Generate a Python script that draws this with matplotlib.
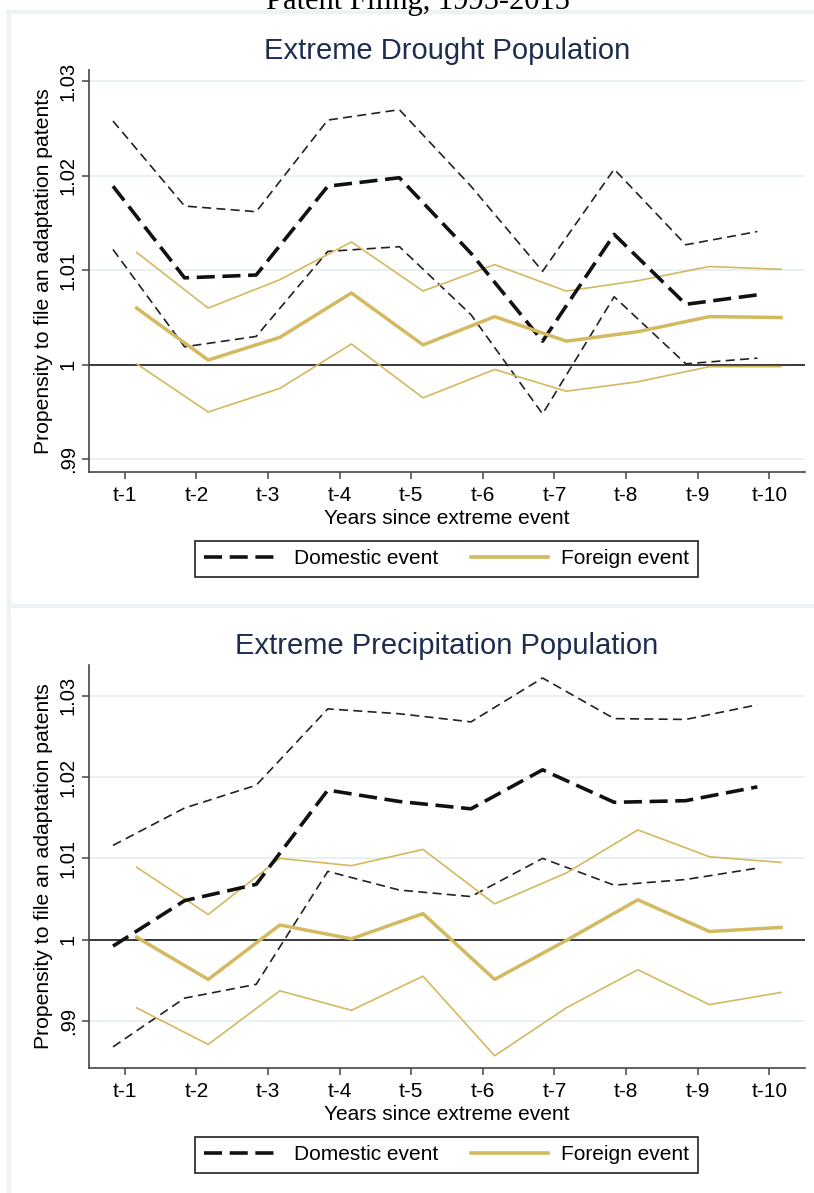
import numpy as np
import matplotlib
matplotlib.use("Agg")
import matplotlib.pyplot as plt
from matplotlib.lines import Line2D

plt.rcParams['font.family'] = ['Liberation Sans', 'DejaVu Sans']
plt.rcParams['lines.scale_dashes'] = False

# ---------------- data ----------------
lag_labels = ['t-1', 't-2', 't-3', 't-4', 't-5', 't-6', 't-7', 't-8', 't-9', 't-10']
lags = np.arange(1, 11)
ytick_vals = [0.99, 1.00, 1.01, 1.02, 1.03]
ytick_labels = ['.99', '1', '1.01', '1.02', '1.03']

drought_dom    = [1.0189, 1.0092, 1.0095, 1.0189, 1.0198, 1.0118, 1.0025, 1.0138, 1.0064, 1.0074]
drought_dom_hi = [1.0258, 1.0168, 1.0162, 1.0259, 1.0270, 1.0189, 1.0099, 1.0207, 1.0127, 1.0141]
drought_dom_lo = [1.0122, 1.0019, 1.0030, 1.0120, 1.0125, 1.0053, 0.9948, 1.0072, 1.0001, 1.0007]
drought_for    = [1.0060, 1.0005, 1.0029, 1.0076, 1.0021, 1.0051, 1.0025, 1.0035, 1.0051, 1.0050]
drought_for_hi = [1.0119, 1.0060, 1.0090, 1.0130, 1.0078, 1.0106, 1.0078, 1.0089, 1.0104, 1.0101]
drought_for_lo = [1.0001, 0.9950, 0.9975, 1.0022, 0.9965, 0.9995, 0.9972, 0.9982, 0.9998, 0.9998]

precip_dom    = [0.9992, 1.0048, 1.0068, 1.0184, 1.0170, 1.0161, 1.0209, 1.0169, 1.0171, 1.0188]
precip_dom_hi = [1.0116, 1.0162, 1.0190, 1.0284, 1.0278, 1.0268, 1.0322, 1.0272, 1.0271, 1.0289]
precip_dom_lo = [0.9868, 0.9928, 0.9945, 1.0084, 1.0061, 1.0053, 1.0100, 1.0067, 1.0074, 1.0088]
precip_for    = [1.0003, 0.9951, 1.0018, 1.0001, 1.0032, 0.9951, 0.9999, 1.0049, 1.0010, 1.0015]
precip_for_hi = [1.0089, 1.0031, 1.0100, 1.0091, 1.0111, 1.0044, 1.0082, 1.0135, 1.0102, 1.0095]
precip_for_lo = [0.9916, 0.9871, 0.9937, 0.9913, 0.9955, 0.9857, 0.9916, 0.9963, 0.9920, 0.9935]

super_title = "Patent Filing, 1995-2015"
panel_titles = ["Extreme Drought Population", "Extreme Precipitation Population"]
xlabel = "Years since extreme event"
ylabel = "Propensity to file an adaptation patents"
legend_labels = ["Domestic event", "Foreign event"]

# ---------------- style ----------------
W, H = 814, 1193
GOLD = '#d3b95f'
BLACK = '#111111'
TITLE_C = '#1e2d4f'
FRAME_C = '#edf2f5'
GRID_C = '#e4edf0'
DODGE = 0.165
THICK_DASH = (0, (13, 5.5))
THIN_DASH = (0, (6.5, 3.8))

fig = plt.figure(figsize=(W / 100, H / 100), dpi=100)


def fx(px):
    return px / W


def fy(py):
    return 1 - py / H


# graph-region frames (light)
for xs, ys in [([8, W], [12, 12]), ([9, 9], [12, H]), ([9, W], [606, 606])]:
    fig.add_artist(Line2D([fx(x) for x in xs], [fy(y) for y in ys],
                          color=FRAME_C, lw=3, transform=fig.transFigure))

fig.text(fx(418), fy(9), super_title, family='Liberation Serif', fontsize=22,
         ha='center', va='baseline', color='black')

panels = [
    dict(top=70, bottom=472, ylim=(0.98865, 1.0312), title_y=51, leg_y=559,
         dom=drought_dom, dom_hi=drought_dom_hi, dom_lo=drought_dom_lo,
         fo=drought_for, fo_hi=drought_for_hi, fo_lo=drought_for_lo),
    dict(top=665, bottom=1068, ylim=(0.9842, 1.0338), title_y=646, leg_y=1155,
         dom=precip_dom, dom_hi=precip_dom_hi, dom_lo=precip_dom_lo,
         fo=precip_for, fo_hi=precip_for_hi, fo_lo=precip_for_lo),
]

left_px, right_px = 89, 805
for i, p in enumerate(panels):
    ax = fig.add_axes([fx(left_px), fy(p['bottom']),
                       (right_px - left_px) / W, (p['bottom'] - p['top']) / H])
    ax.set_xlim(0.5, 10.5)
    ax.set_ylim(*p['ylim'])
    for s in ['top', 'right']:
        ax.spines[s].set_visible(False)
    for s in ['left', 'bottom']:
        ax.spines[s].set_color('#454545')
        ax.spines[s].set_linewidth(1.2)

    ax.set_yticks(ytick_vals, ytick_labels)
    ax.set_xticks(lags, lag_labels)
    ax.tick_params(axis='x', length=5, width=1.1, pad=5, labelsize=15, color='#454545')
    ax.tick_params(axis='y', length=5, width=1.1, pad=3, labelsize=14.5, color='#454545')
    for lbl in ax.get_yticklabels():
        lbl.set_rotation(90)
        lbl.set_va('center')
        lbl.set_ha('right')
    ax.grid(axis='y', color=GRID_C, lw=1.2)
    ax.set_axisbelow(True)
    ax.axhline(1.0, color='#3a3a3a', lw=1.4, zorder=2)

    xd = lags - DODGE
    xf = lags + DODGE
    ax.plot(xd, p['dom_hi'], color='#222222', lw=1.2, linestyle=THIN_DASH, zorder=3)
    ax.plot(xd, p['dom_lo'], color='#222222', lw=1.2, linestyle=THIN_DASH, zorder=3)
    ax.plot(xf, p['fo_hi'], color=GOLD, lw=1.2, zorder=3)
    ax.plot(xf, p['fo_lo'], color=GOLD, lw=1.2, zorder=3)
    ax.plot(xd, p['dom'], color=BLACK, lw=2.6, linestyle=THICK_DASH, zorder=4)
    ax.plot(xf, p['fo'], color=GOLD, lw=2.5, zorder=4)

    ax.set_xlabel(xlabel, fontsize=15, va='center')
    ax.xaxis.set_label_coords(0.5, -46 / (p['bottom'] - p['top']))
    ax.set_ylabel(ylabel, fontsize=15.2, va='center')
    ax.yaxis.set_label_coords(-45 / (right_px - left_px), 0.5)

    fig.text(fx(447), fy(p['title_y']), panel_titles[i], fontsize=21,
             color=TITLE_C, ha='center', va='center')

    h_dom = Line2D([], [], color=BLACK, lw=2.6, linestyle=THICK_DASH)
    h_for = Line2D([], [], color=GOLD, lw=2.6)
    leg = fig.legend([h_dom, h_for], legend_labels, loc='center',
                     bbox_to_anchor=(fx(446.5), fy(p['leg_y'])), ncol=2,
                     fontsize=15, handlelength=3.7, handletextpad=0.62,
                     columnspacing=1.6, borderpad=0.42, fancybox=False,
                     frameon=True, edgecolor='#222222', framealpha=1)
    leg.get_frame().set_linewidth(1.2)

fig.savefig('out.png', dpi=100, facecolor='white')
